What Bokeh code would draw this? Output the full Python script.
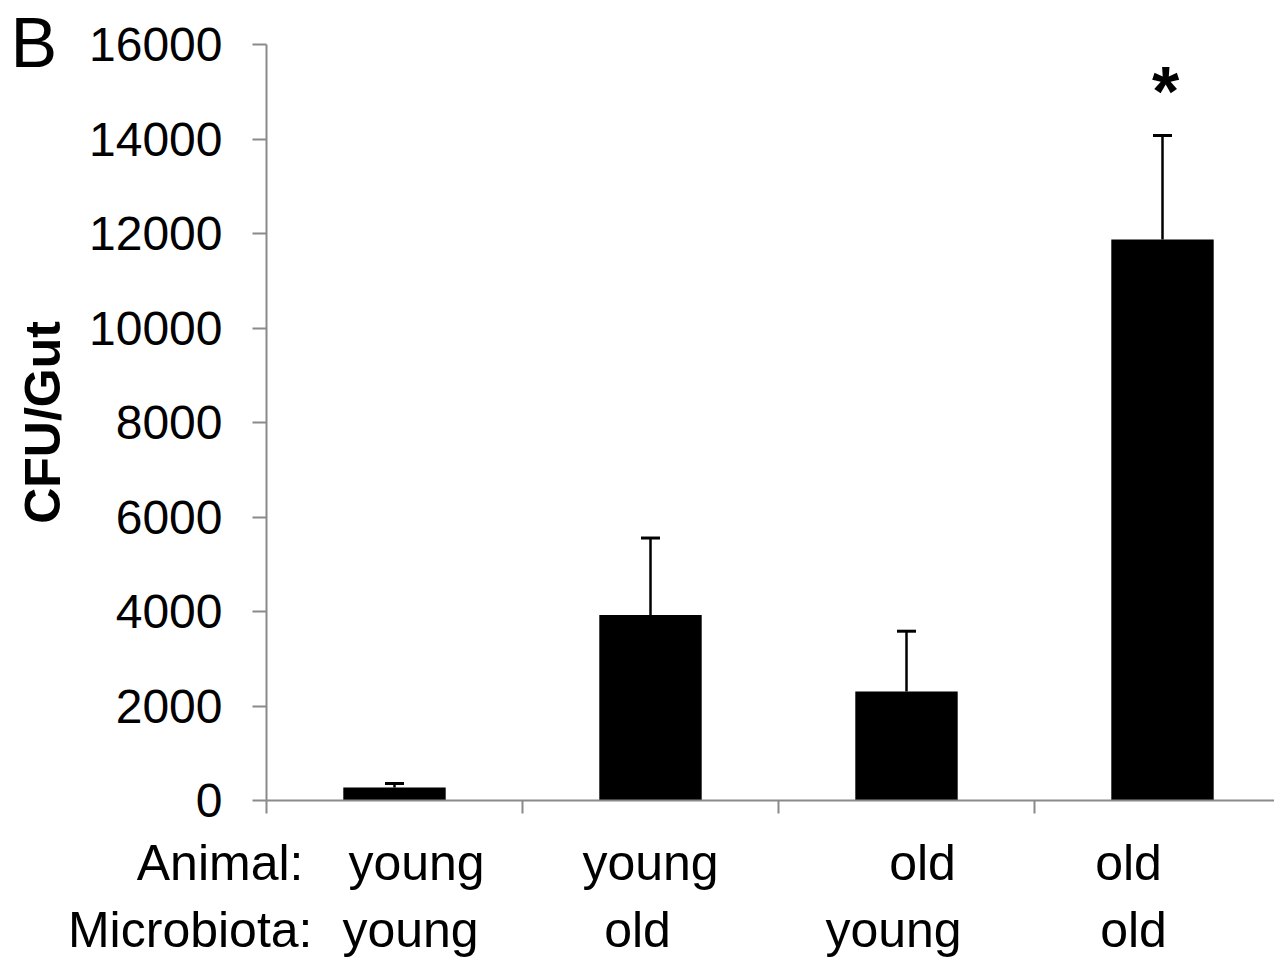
from bokeh.plotting import figure
from bokeh.models import (Range1d, FixedTicker, Whisker, TeeHead, ColumnDataSource,
                          LabelSet)
from bokeh.core.properties import value
from bokeh.embed import file_html
from bokeh.resources import INLINE

# ---- data ----
animal = ["young", "young", "old", "old"]
microbiota = ["young", "old", "young", "old"]
cfu_mean = [275, 3925, 2307, 11873]
cfu_upper = [360, 5555, 3583, 14074]
y_ticks = [0, 2000, 4000, 6000, 8000, 10000, 12000, 14000, 16000]
significance = ["", "", "", "*"]
row_titles = ["Animal:", "Microbiota:"]
panel_letter = "B"

# ---- layout (pixels) ----
W, H = 1274, 957
AXIS_X, AXIS_Y, TOP_Y = 266, 800, 44        # canvas px of x=0, y=0, y=16000
CAT_W = 256                                  # px per category
FONT = "Liberation Sans"
AX = "#8a8a8a"

y_max = y_ticks[-1]
px_per_y = (AXIS_Y - TOP_Y) / y_max
x_end = (W - AXIS_X) / CAT_W

xs = [i + 0.5 for i in range(len(cfu_mean))]

p = figure(width=W, height=H, output_backend="svg", toolbar_location=None,
           x_range=Range1d(-AXIS_X / CAT_W, x_end),
           y_range=Range1d(-(H - AXIS_Y) / px_per_y, y_max + TOP_Y / px_per_y),
           min_border=0)
p.outline_line_color = None
p.grid.visible = False
p.background_fill_color = "white"
p.border_fill_color = "white"

# y axis
ya = p.yaxis[0]
ya.fixed_location = 0
ya.bounds = (0, y_max)
ya.ticker = FixedTicker(ticks=y_ticks)
ya.axis_line_color = AX
ya.axis_line_width = 2
ya.major_tick_line_color = AX
ya.major_tick_line_width = 2
ya.major_tick_out = 14
ya.major_tick_in = 0
ya.minor_tick_line_color = None
ya.major_label_standoff = 30
ya.major_label_text_font = FONT
ya.major_label_text_font_size = "48px"
ya.major_label_text_color = "black"
ya.axis_label = "CFU/Gut"
ya.axis_label_text_font = FONT
ya.axis_label_text_font_style = "bold"
ya.axis_label_text_font_size = "50px"
ya.axis_label_text_color = "black"
ya.axis_label_standoff = 15

# x axis (ticks only; category texts drawn below)
xa = p.xaxis[0]
xa.fixed_location = 0
xa.bounds = (0, x_end)
xa.ticker = FixedTicker(ticks=[0, 1, 2, 3, 4])
xa.axis_line_color = AX
xa.axis_line_width = 2
xa.major_tick_line_color = AX
xa.major_tick_line_width = 2
xa.major_tick_out = 13
xa.major_tick_in = 0
xa.minor_tick_line_color = None
xa.major_label_overrides = {0: "", 1: "", 2: "", 3: "", 4: ""}

# bars
src = ColumnDataSource(dict(x=xs, top=cfu_mean, upper=cfu_upper,
                            animal=animal, microbiota=microbiota, sig=significance,
                            off1=[22, 0, 16, -34], off2=[16, -13, -13, -29]))
p.vbar(x="x", top="top", bottom=0, width=0.4, source=src,
       fill_color="black", line_color=None)

# error bars (upper only)
p.add_layout(Whisker(source=src, base="x", lower="top", upper="upper",
                     line_color="black", line_width=2.5,
                     lower_head=None,
                     upper_head=TeeHead(size=19, line_color="black", line_width=3)))

common = dict(text_baseline="alphabetic", text_font=value(FONT), text_color="black")

# significance star
p.add_layout(LabelSet(source=src, x="x", y="upper", text="sig",
                      x_offset=3, y_offset=20, text_align="center",
                      text_font_style="bold", text_font_size=value("70px"), **common))

# category labels
p.add_layout(LabelSet(source=src, x="x", y=0, y_offset=-79, text="animal",
                      x_offset="off1", text_align="center",
                      text_font_size=value("50px"), **common))
p.add_layout(LabelSet(source=src, x="x", y=0, y_offset=-146, text="microbiota",
                      x_offset="off2", text_align="center",
                      text_font_size=value("50px"), **common))

# row titles
rows = ColumnDataSource(dict(x=[0, 0], y=[0, 0], t=row_titles,
                             dx=[37, 46], dy=[-79, -146]))
p.add_layout(LabelSet(source=rows, x="x", y="y", text="t", x_offset="dx", y_offset="dy",
                      text_align="right", text_font_size=value("50px"), **common))

# panel letter
letter = ColumnDataSource(dict(x=[0], y=[y_max], t=[panel_letter]))
p.add_layout(LabelSet(source=letter, x="x", y="y", text="t", x_offset=-256, y_offset=-22,
                      text_align="left", text_font_size=value("70px"), **common))

open("out.html", "w").write(file_html(p, INLINE))
